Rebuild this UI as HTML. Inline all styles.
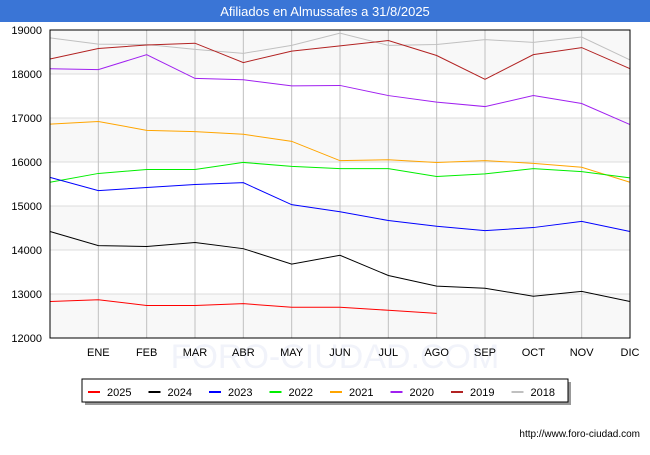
<!DOCTYPE html>
<html><head><meta charset="utf-8"><style>
body{margin:0;background:#fff;font-family:"Liberation Sans",sans-serif}
svg text{font-family:"Liberation Sans",sans-serif}
</style></head><body>
<svg width="650" height="450" id="c">
<rect x="0" y="0" width="650" height="22" fill="#3a75d6"/>
<text x="325" y="16" font-size="13" fill="#fff" text-anchor="middle">Afiliados en Almussafes a 31/8/2025</text>
<g id="plot"></g>
<rect x="85" y="382" width="486" height="23" fill="#999"/>
<rect x="82" y="379" width="486" height="23" fill="#fff" stroke="#000" stroke-width="1"/>
<g id="leg"></g>
<text x="640" y="437" font-size="10" text-anchor="end" fill="#000">http://www.foro-ciudad.com</text>
</svg>
<script>
const months=["","ENE","FEB","MAR","ABR","MAY","JUN","JUL","AGO","SEP","OCT","NOV","DIC"];
const yTicks=[12000,13000,14000,15000,16000,17000,18000,19000];
const years=["2025","2024","2023","2022","2021","2020","2019","2018"];
const colors=["#ff0000","#000000","#0000ff","#00ee00","#ffa500","#a020f0","#b22222","#c0c0c0"];
const s2025=[12830,12870,12740,12740,12780,12700,12700,12630,12560];
const s2024=[14420,14100,14080,14170,14030,13680,13880,13420,13180,13130,12950,13060,12830];
const s2023=[15650,15350,15420,15490,15530,15030,14870,14670,14540,14440,14510,14650,14420];
const s2022=[15540,15740,15830,15830,15990,15900,15850,15850,15670,15730,15850,15780,15640];
const s2021=[16860,16920,16720,16690,16630,16470,16030,16050,15990,16030,15970,15880,15540];
const s2020=[18120,18100,18440,17900,17870,17730,17740,17510,17360,17260,17510,17330,16850];
const s2019=[18340,18580,18660,18700,18260,18520,18640,18760,18420,17880,18440,18600,18120];
const s2018=[18820,18680,18670,18560,18470,18650,18930,18650,18670,18780,18720,18840,18320];
const series=[s2025,s2024,s2023,s2022,s2021,s2020,s2019,s2018];
const L=50,R=630,T=30,B=338,ymin=12000,ymax=19000;
const X=i=>L+i*(R-L)/12, Y=v=>B-(v-ymin)/(ymax-ymin)*(B-T);
const NS="http://www.w3.org/2000/svg";
const g=document.getElementById('plot');
function mk(t,a,p){const e=document.createElementNS(NS,t);for(const k in a)e.setAttribute(k,a[k]);(p||g).appendChild(e);return e;}
for(let i=0;i<yTicks.length-1;i++){
 const r=mk('rect',{x:L,y:Y(yTicks[i+1]),width:R-L,height:Y(yTicks[i])-Y(yTicks[i+1]),fill:(i%2==0)?'#f8f8f8':'#fff'});
 
 
}
const wm=mk('text',{x:335,y:368,'font-size':34,'text-anchor':'middle',fill:'#f1f3fa'});
wm.textContent='FORO-CIUDAD.COM';


yTicks.forEach(v=>{
 const l=mk('line',{x1:L,x2:R,y1:Y(v),y2:Y(v),stroke:'#ddd'});
 
 
 const t=mk('text',{x:42,y:Y(v)+4,'font-size':11,'text-anchor':'end',fill:'#000'});
 t.textContent=v;
 
 
});
months.forEach((m,i)=>{
 if(i>0){const l=mk('line',{x1:X(i),x2:X(i),y1:T,y2:B,stroke:'#c0c0c0'});
 
 }
 if(m){const t=mk('text',{x:X(i),y:356,'font-size':11,'text-anchor':'middle',fill:'#000'});
 t.textContent=m;
 
 }
});
for(let k=series.length-1;k>=0;k--){
 const p=mk('polyline',{points:series[k].map((v,i)=>X(i)+','+Y(v)).join(' '),fill:'none',stroke:colors[k],'stroke-width':1});
 
 
}
mk('rect',{x:L,y:T,width:R-L,height:B-T,fill:'none',stroke:'#000','stroke-width':1});
const lg=document.getElementById('leg');
years.forEach((y,i)=>{
 const x0=88+i*60.5;
 const l=mk('line',{x1:x0,x2:x0+12,y1:392,y2:392,stroke:colors[i],'stroke-width':2},lg);
 
 
 const t=mk('text',{x:x0+19,y:396,'font-size':11,fill:'#000'},lg);
 t.textContent=y;
 
 
});
</script>
</body></html>
